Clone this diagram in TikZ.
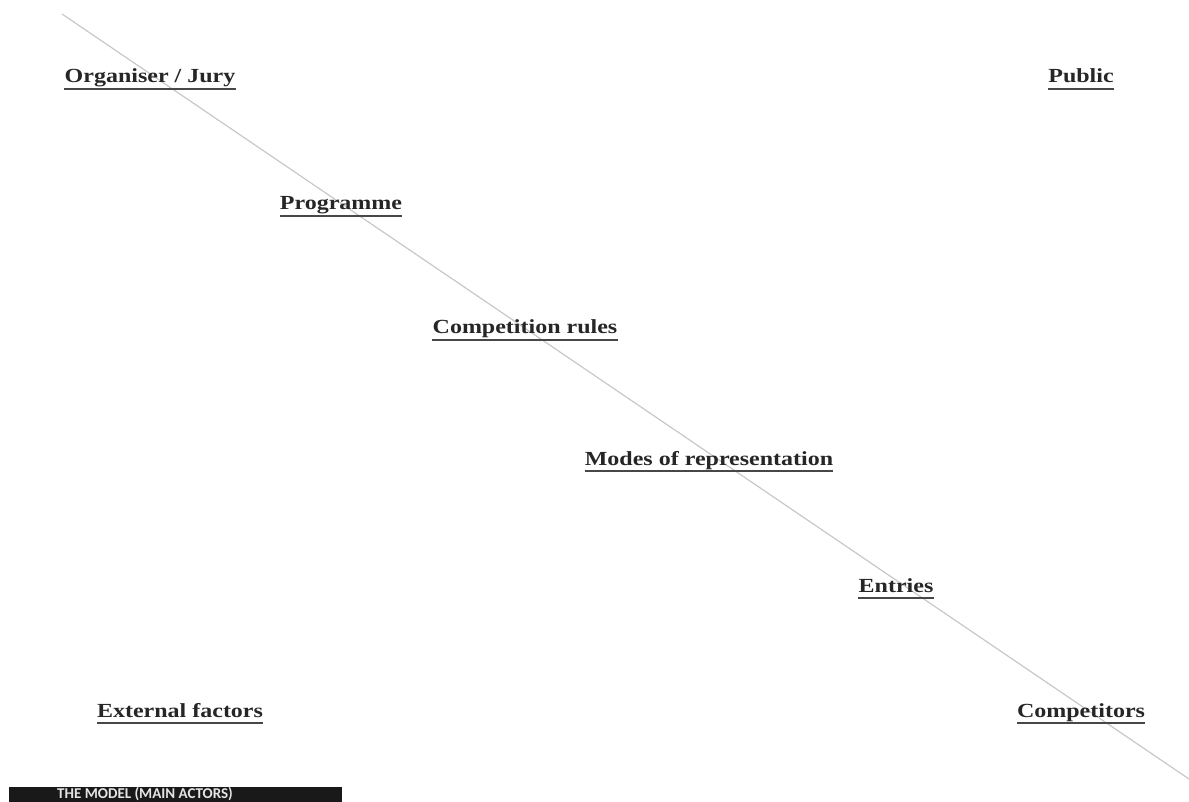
\documentclass[tikz,border=0pt]{standalone}
\usepackage{fontspec}
\setmainfont[FakeStretch=1.2]{Liberation Serif}
\newfontfamily\barfont{Carlito}
\definecolor{diag}{HTML}{C8C8C8}
\definecolor{ink}{HTML}{262626}
\begin{document}
\begin{tikzpicture}[x=1pt,y=-1pt,
  lbl/.style={font=\fontsize{20}{24}\selectfont\bfseries, text=ink, inner sep=0pt, anchor=base},
  uline/.style={draw=ink!85, line width=1.7pt}]
\useasboundingbox (0,0) rectangle (1189,802);
\coordinate (ls) at (62,14);
\coordinate (le) at (1189,779);
\draw[diag, line width=1.2pt] (ls) -- (le);
\node[lbl] (org) at (150,83) {Organiser / Jury};
\node[lbl] (pub) at (1081,83) {Public};
\node[lbl] (prog) at (341,210) {Programme};
\node[lbl] (comp) at (525,334) {Competition rules};
\node[lbl] (modes) at (709,465) {Modes of representation};
\node[lbl] (ent) at (896,592) {Entries};
\node[lbl] (ext) at (180,717) {External factors};
\node[lbl] (cmp) at (1081,717) {Competitors};
\foreach \n in {org,pub,prog,comp,modes,ent,ext,cmp}
  \draw[uline] ([yshift=-6pt]\n.base west) -- ([yshift=-6pt]\n.base east);
\fill[black!90] (9,787) rectangle (342,802);
\node[font=\barfont\fontsize{15}{15}\selectfont\bfseries, text=white!90!black, inner sep=0pt, anchor=base west] (bar) at (57,798.5) {THE MODEL (MAIN ACTORS)};
\end{tikzpicture}
\end{document}
